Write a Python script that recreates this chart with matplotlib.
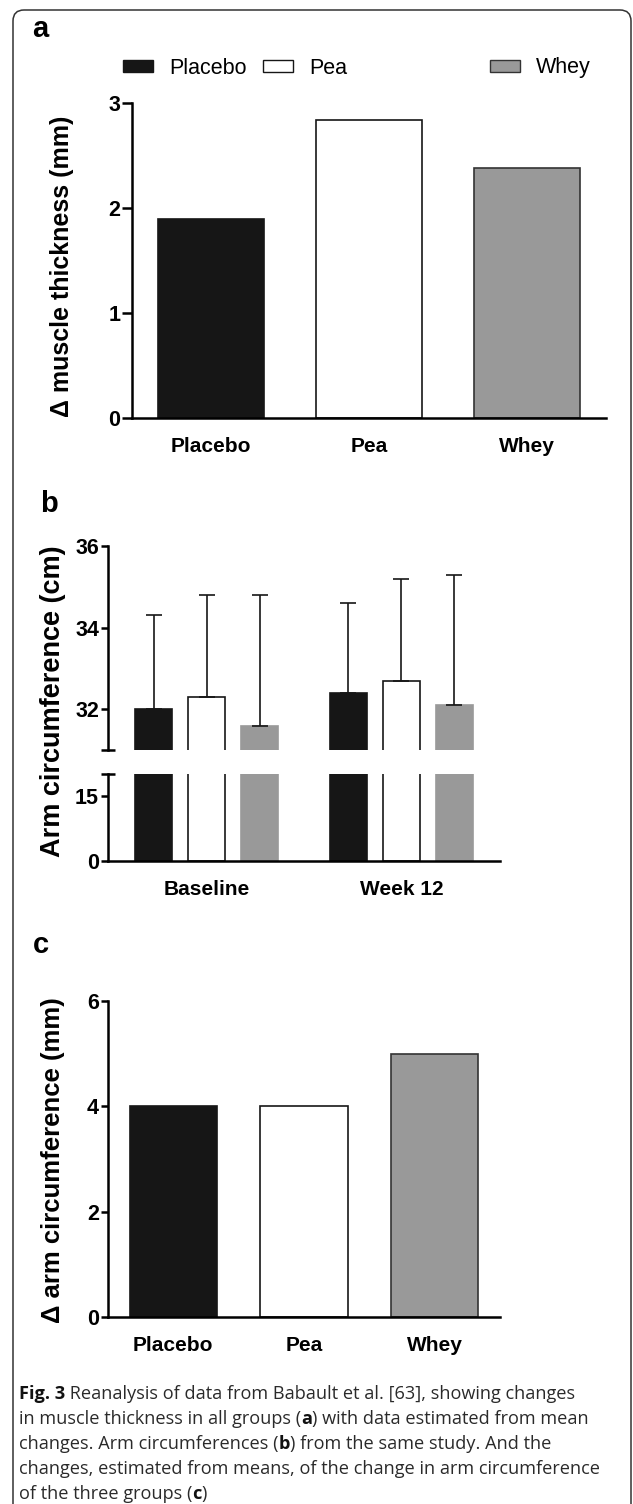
import numpy as np
import matplotlib
matplotlib.use('Agg')
import matplotlib.pyplot as plt
from matplotlib.patches import Patch, FancyBboxPatch
from matplotlib.transforms import IdentityTransform

plt.rcParams['font.family'] = ['Liberation Sans', 'DejaVu Sans']

groups = ['Placebo', 'Pea', 'Whey']
colors = ['#161616', '#ffffff', '#999999']
edges = ['#161616', '#161616', '#333333']

# panel a: change in muscle thickness (mm)
muscle_change = [1.9, 2.84, 2.38]

# panel b: arm circumference (cm), mean and SD
times = ['Baseline', 'Week 12']
arm_baseline = [32.0, 32.3, 31.6]
arm_week12 = [32.4, 32.7, 32.1]
sd_baseline = [2.3, 2.5, 3.2]
sd_week12 = [2.2, 2.5, 3.2]

# panel c: change in arm circumference (mm)
arm_change = [4.0, 4.0, 5.0]

W, H = 633, 1504
fig = plt.figure(figsize=(W / 100, H / 100), dpi=100)


def fx(px):
    return px / W


def fy(px):
    return 1 - px / H


def axes_px(left, top, right, bottom):
    return fig.add_axes([fx(left), fy(bottom), fx(right) - fx(left), fy(top) - fy(bottom)])


def style(ax, ticklen=5):
    for s in ['top', 'right']:
        ax.spines[s].set_visible(False)
    for s in ['left', 'bottom']:
        ax.spines[s].set_linewidth(1.8)
    ax.tick_params(axis='y', length=ticklen, width=1.8, pad=1.5, labelsize=15.5)
    ax.tick_params(axis='x', length=0, pad=24.5, labelsize=15)
    for lab in ax.get_yticklabels():
        lab.set_fontweight('bold')
    for lab in ax.get_xticklabels():
        lab.set_fontweight('bold')
        lab.set_va('baseline')


# ---- panel a
ax_a = axes_px(132, 103, 606, 418)
xa = np.arange(3)
ax_a.bar(xa, muscle_change, width=0.67, color=colors, edgecolor=edges, linewidth=1.2)
ax_a.set_xlim(-0.5, 2.5)
ax_a.set_ylim(0, 3)
ax_a.set_yticks([0, 1, 2, 3])
ax_a.set_xticks(xa, groups)
style(ax_a, ticklen=7)

# ---- panel b (broken axis)
xb = np.concatenate([np.arange(3), np.arange(3) + 3.68])
vals_b = arm_baseline + arm_week12
sds_b = sd_baseline + sd_week12
cols_b = colors * 2
edges_b = ['#161616', '#161616', '#999999'] * 2

ax_bt = axes_px(108, 546, 500, 750)
ax_bb = axes_px(108, 774, 500, 861)
for ax in (ax_bt, ax_bb):
    ax.bar(xb, vals_b, width=0.7, color=cols_b, edgecolor=edges_b, linewidth=1.2)
    ax.set_xlim(-0.86, 6.54)
ax_bt.errorbar(xb, vals_b, yerr=[np.zeros(6), sds_b], fmt='none', ecolor='#161616',
               elinewidth=1.2, capsize=6, capthick=1.2)
ax_bt.set_ylim(31, 36)
ax_bt.set_yticks([32, 34, 36])
ax_bt.set_yticks([31], minor=True)
ax_bt.set_xticks([])
ax_bt.spines['bottom'].set_visible(False)
ax_bb.set_ylim(0, 20)
ax_bb.set_yticks([0, 15])
ax_bb.set_yticks([20], minor=True)
ax_bb.set_xticks([np.mean(xb[:3]), np.mean(xb[3:])], times)
style(ax_bt)
style(ax_bb)
for ax in (ax_bt, ax_bb):
    ax.tick_params(axis='y', which='minor', direction='inout', length=10, width=1.8)

# ---- panel c
ax_c = axes_px(108, 1001, 500, 1317)
ax_c.bar(xa, arm_change, width=0.67, color=colors, edgecolor=edges, linewidth=1.2)
ax_c.set_xlim(-0.5, 2.5)
ax_c.set_ylim(0, 6)
ax_c.set_yticks([0, 2, 4, 6])
ax_c.set_xticks(xa, groups)
style(ax_c)

# y labels
fig.text(fx(62), fy(266), '\u0394 muscle thickness (mm)', rotation=90, ha='center', va='center',
         fontsize=18, fontweight='bold')
fig.text(fx(53), fy(701), 'Arm circumference (cm)', rotation=90, ha='center', va='center',
         fontsize=19.5, fontweight='bold')
fig.text(fx(53), fy(1160), '\u0394 arm circumference (mm)', rotation=90, ha='center', va='center',
         fontsize=18.5, fontweight='bold')

# panel letters
for letter, (px, py) in zip('abc', [(32, 37), (40, 512), (33, 953)]):
    fig.text(fx(px), fy(py), letter, fontsize=21, fontweight='bold', va='baseline')

# legend, entries placed individually
leg_x = [123, 263, 490]
for g, c, e, px in zip(groups, colors, edges, leg_x):
    h = Patch(facecolor=c, edgecolor=e, linewidth=1)
    fig.legend([h], [g], loc='center left', bbox_to_anchor=(fx(px), fy(68)), frameon=False,
               fontsize=15.5, handlelength=1.4, handleheight=0.5,
               handletextpad=0.75, borderpad=0, borderaxespad=0)

# rounded frame
frame = FancyBboxPatch((13, -40), 618, H - 10 + 40, boxstyle='round,pad=0,rounding_size=11',
                       transform=IdentityTransform(), facecolor='none', edgecolor='#333333',
                       linewidth=1.1)
fig.patches.append(frame)

# caption with bold pieces
renderer = fig.canvas.get_renderer()
caption = [
    [('Fig. 3', True), (' Reanalysis of data from Babault et al. [63], showing changes', False)],
    [('in muscle thickness in all groups (', False), ('a', True), (') with data estimated from mean', False)],
    [('changes. Arm circumferences (', False), ('b', True), (') from the same study. And the', False)],
    [('changes, estimated from means, of the change in arm circumference', False)],
    [('of the three groups (', False), ('c', True), (')', False)],
]
for i, line in enumerate(caption):
    x = 19
    y = 1399 + i * 25
    for txt, bold in line:
        t = fig.text(fx(x), fy(y), txt, family=['Open Sans', 'DejaVu Sans'], fontsize=13.1,
                     fontweight='bold' if bold else 'normal', color='#111111' if bold else '#2a2a2a',
                     va='baseline')
        x += t.get_window_extent(renderer).width

fig.savefig('out.png', dpi=100)
